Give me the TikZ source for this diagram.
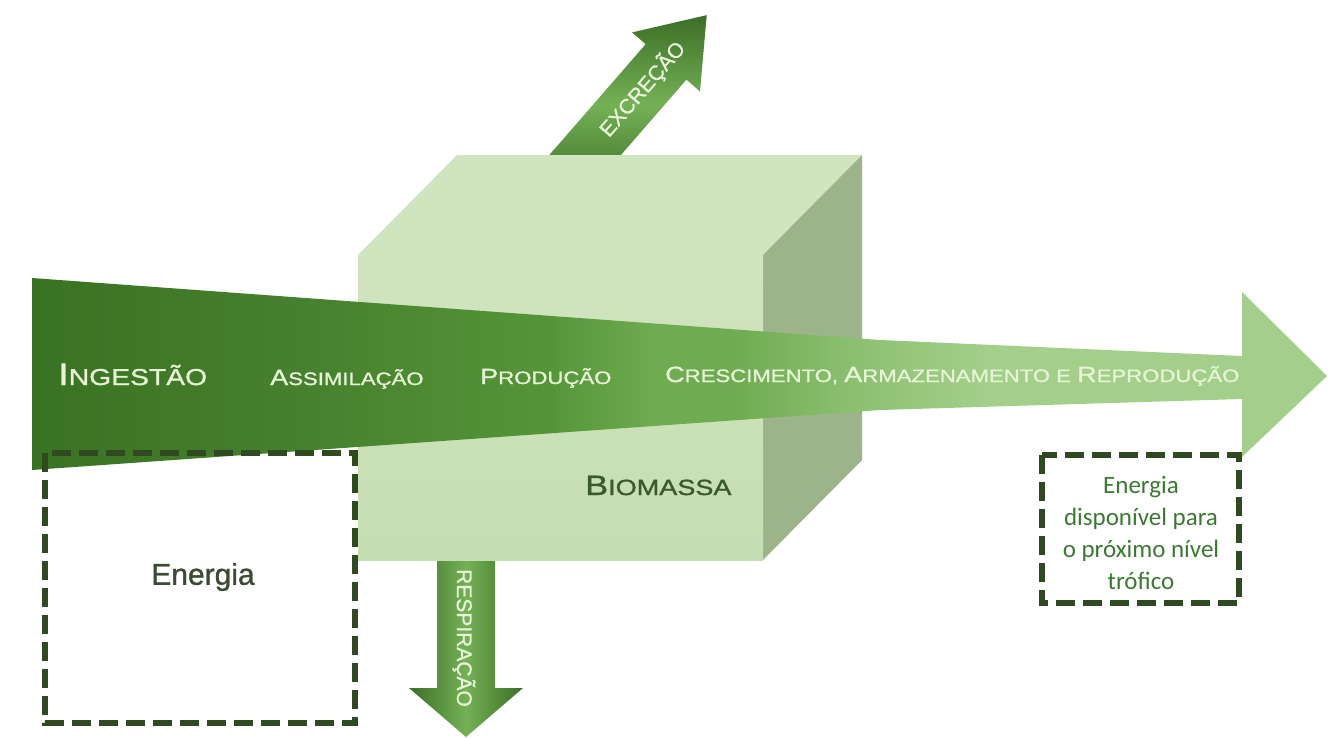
\documentclass[tikz,border=0pt]{standalone}
\usepackage{fontspec}
\setmainfont{Liberation Sans}
\newfontfamily\flowfont[FakeStretch=1.23,FakeBold=1.2]{Liberation Sans}
\newfontfamily\plainfont[FakeBold=1.0]{Liberation Sans}
\newfontfamily\notefont{Carlito}

\definecolor{flowA}{HTML}{3A7223}
\definecolor{flowB}{HTML}{467F2D}
\definecolor{flowC}{HTML}{559539}
\definecolor{flowD}{HTML}{6FAB50}
\definecolor{flowE}{HTML}{8DC172}
\definecolor{flowF}{HTML}{A4CF8B}
\definecolor{flowtxt}{HTML}{E6F4D6}
\definecolor{cubefrontc}{HTML}{C5DEB1}
\definecolor{cubetopc}{HTML}{D1E4C0}
\definecolor{cubesidec}{HTML}{9DB48A}
\definecolor{arrowdark}{HTML}{3C6E27}
\definecolor{arrowlight}{HTML}{74B155}
\definecolor{biotxt}{HTML}{3A5A2C}
\definecolor{dashc}{HTML}{2F4A21}
\definecolor{notetxt}{HTML}{3A7A30}
\definecolor{energytxt}{HTML}{3B4A33}

\pgfdeclarehorizontalshading{mainflow}{100bp}{color(0bp)=(flowA); color(25bp)=(flowA); color(35bp)=(flowB); color(45bp)=(flowC); color(49bp)=(flowD); color(52bp)=(flowD); color(57bp)=(flowE); color(62bp)=(flowF); color(100bp)=(flowF)}

\newcommand{\capbig}[1]{{\fontsize{22}{22}\selectfont #1}}
\newcommand{\caplow}[1]{{\fontsize{18}{18}\selectfont #1}}

\tikzset{
  flowtext/.style={inner sep=0pt,anchor=base west,text=flowtxt,font=\flowfont},
  arrowtext/.style={inner sep=0pt,text=flowtxt!90!white,font=\plainfont\fontsize{21}{21}\selectfont},
  smallarrow/.style={top color=arrowdark,bottom color=arrowdark,middle color=arrowlight},
  downarrow/.style={left color=arrowdark,right color=arrowdark,middle color=arrowlight},
  dashbox/.style={dashc,line width=5.5pt,dash pattern=on 19pt off 8pt}
}

\begin{document}
\begin{tikzpicture}[x=1pt,y=-1pt]
    \useasboundingbox (0,0) rectangle (1338,737);
    % excretion arrow leaving the top of the box
    \begin{scope}[shift={(586,154)},rotate=49]
        \shade[smallarrow] (-30,-27) -- (122,-27) -- (122,-45) -- (184,0) -- (122,45) -- (122,27) -- (-30,27) -- cycle;
        \node[arrowtext,rotate=49] (excr) at (86,0) {EXCREÇÃO};
    \end{scope}
    % respiration arrow leaving the bottom
    \begin{scope}[shift={(466,560)}]
        \shade[downarrow] (-29,-20) -- (-29,128) -- (-57,128) -- (0,177) -- (57,128) -- (29,128) -- (29,-20) -- cycle;
        \node[arrowtext,rotate=-90] (resp) at (-2,78) {RESPIRAÇÃO};
    \end{scope}
    % the biomass box
    \fill[cubetopc] (358,255) -- (457,155) -- (862,155) -- (763,255) -- cycle;
    \fill[cubesidec] (763,255) -- (862,155) -- (862,460) -- (763,560) -- cycle;
    \shade[top color=cubetopc,bottom color=cubefrontc] (358,255) rectangle (763,560);
    % the main energy flow
    \shade[shading=mainflow] (32,278) -- (880,340) -- (1242,356) -- (1242,292) -- (1327,376)
        -- (1242,457) -- (1242,399) -- (880,410) -- (32,470) -- cycle;
    \node[flowtext] (ingest) at (58,385) {{\fontsize{31}{31}\selectfont I}{\fontsize{23}{23}\selectfont NGESTÃO}};
    \node[flowtext] (assim) at (270,385) {\capbig{A}\caplow{SSIMILAÇÃO}};
    \node[flowtext] (prod) at (480,384) {\capbig{P}\caplow{RODUÇÃO}};
    \node[flowtext] (cresc) at (665,382) {\capbig{C}\caplow{RESCIMENTO, }\capbig{A}\caplow{RMAZENAMENTO E }\capbig{R}\caplow{EPRODUÇÃO}};
    \node[flowtext,text=biotxt] (bio) at (585,495) {{\fontsize{28}{28}\selectfont B}{\fontsize{22}{22}\selectfont IOMASSA}};
    % dashed energy boxes
    \draw[dashbox] (45,453) rectangle (355,723);
    \node[text=energytxt,font=\plainfont\fontsize{30}{30}\selectfont] (enin) at (203,577) {Energia};
    \draw[dashbox] (1042,455) rectangle (1239,603);
    \node[text=notetxt,align=center,font=\notefont\fontsize{25}{32}\selectfont] (enout) at (1141,533)
        {Energia\\disponível para\\o próximo nível\\trófico};
\end{tikzpicture}
\end{document}
